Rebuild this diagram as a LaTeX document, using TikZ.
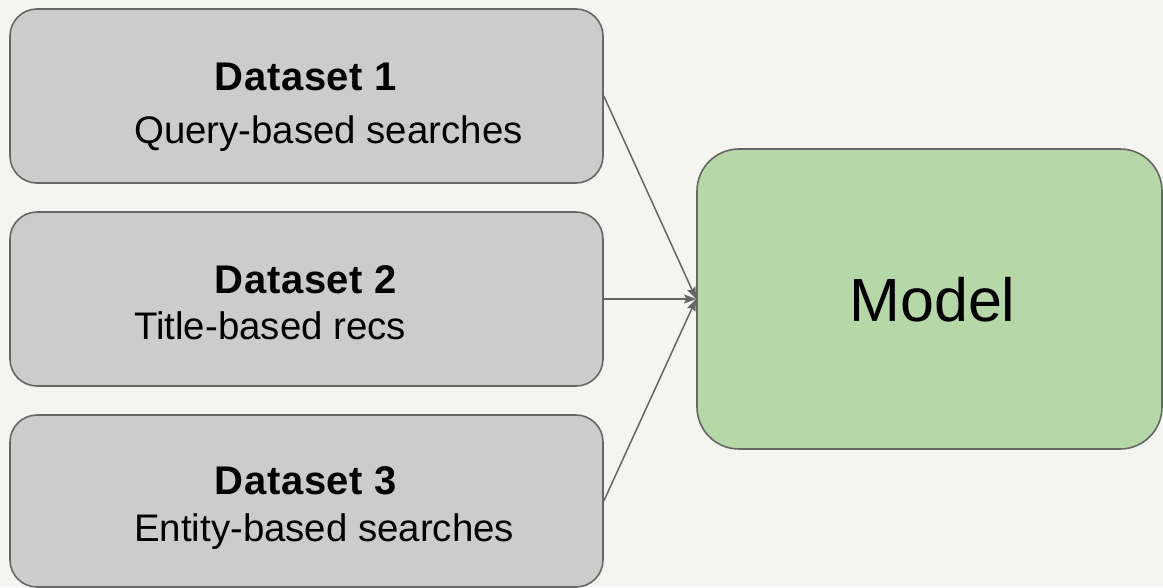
\documentclass[tikz,border=0pt]{standalone}
\usepackage{fontspec}
\setmainfont{Liberation Sans}
\usetikzlibrary{arrows.meta}
\definecolor{bgcol}{HTML}{F4F4F0}
\definecolor{boxgray}{HTML}{CCCCCC}
\definecolor{edgegray}{HTML}{666666}
\definecolor{modelgreen}{HTML}{B6D7A8}
\tikzset{
  databox/.style={draw=edgegray, line width=1.6pt, fill=boxgray, rounded corners=27pt,
    minimum width=593pt, minimum height=174pt, inner sep=0pt},
  modelbox/.style={draw=edgegray, line width=1.6pt, fill=modelgreen, rounded corners=42pt,
    minimum width=465pt, minimum height=300pt, inner sep=0pt},
  modeltext/.style={anchor=base, inner sep=0pt, font=\fontsize{61pt}{70pt}\selectfont},
  titletext/.style={anchor=base, inner sep=0pt,
    font=\fontsize{40pt}{46pt}\selectfont\bfseries\addfontfeature{LetterSpace=1.5}},
  subtext/.style={anchor=base west, inner sep=0pt, font=\fontsize{38.4pt}{44pt}\selectfont},
  feed/.style={draw=edgegray, line width=1.5pt, -{Stealth[length=12pt,width=9pt,inset=2pt]}}
}
\begin{document}
\begin{tikzpicture}[x=1pt,y=-1pt]
  \fill[bgcol] (0,0) rectangle (1163,587);
  \useasboundingbox (0,0) rectangle (1163,587);

  % input datasets
  \node[databox] (d1) at (306.5,96) {};
  \node[databox] (d2) at (306.5,299) {};
  \node[databox, minimum height=172pt] (d3) at (306.5,501) {};

  \node[titletext] (t1) at (306,90.7) {Dataset 1};
  \node[subtext] (s1) at (134,143.3) {Query-based searches};
  \node[titletext] (t2) at (306,293.3) {Dataset 2};
  \node[subtext] (s2) at (134,339.3) {Title-based recs};
  \node[titletext] (t3) at (306,494.5) {Dataset 3};
  \node[subtext] (s3) at (134,541) {Entity-based searches};

  % model
  \node[modelbox] (m) at (929.5,299) {};
  \node[modeltext] (mt) at (932.5,321.7) {Model};

  % connectors
  \draw[feed] (d1.east) -- (m.west);
  \draw[feed] (d2.east) -- (m.west);
  \draw[feed] (d3.east) -- (m.west);
\end{tikzpicture}
\end{document}
